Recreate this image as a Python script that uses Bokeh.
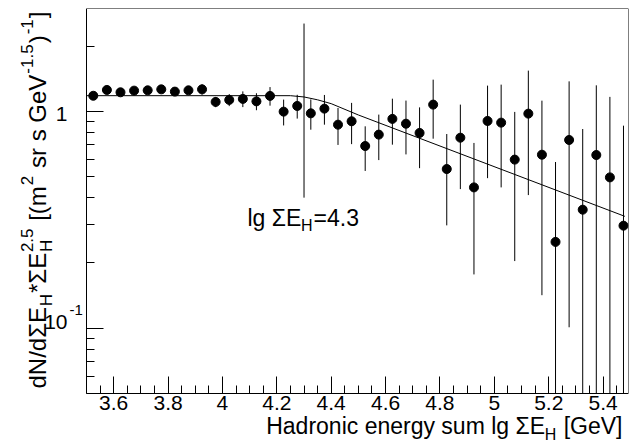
import math
from bokeh.plotting import figure
from bokeh.models import Label, FixedTicker, Range1d, LinearAxis, LogAxis
from bokeh.embed import file_html
from bokeh.resources import INLINE

# ---------------- data ----------------
lg_e = [3.525, 3.575, 3.625, 3.675, 3.725, 3.775, 3.825, 3.875, 3.925, 3.975,
        4.025, 4.075, 4.125, 4.175, 4.225, 4.275, 4.325, 4.375, 4.425, 4.475,
        4.525, 4.575, 4.625, 4.675, 4.725, 4.775, 4.825, 4.875, 4.925, 4.975,
        5.025, 5.075, 5.125, 5.175, 5.225, 5.275, 5.325, 5.375, 5.425, 5.475]
flux = [1.18, 1.255, 1.224, 1.246, 1.25, 1.263, 1.233, 1.25, 1.263, 1.105,
        1.129, 1.141, 1.112, 1.178, 0.997, 1.059, 0.979, 1.029, 0.868, 0.90,
        0.692, 0.781, 0.923, 0.877, 0.795, 1.074, 0.542, 0.756, 0.446, 0.903,
        0.887, 0.599, 0.976, 0.631, 0.25, 0.738, 0.352, 0.629, 0.496, 0.297]
flux_err = [0.04, 0.04, 0.04, 0.04, 0.04, 0.04, 0.04, 0.04, 0.07, 0.06,
            0.072, 0.095, 0.10, 0.116, 0.136, 0.133, 0.156, 0.161, 0.168, 0.194,
            0.161, 0.185, 0.221, 0.244, 0.248, 0.326, 0.244, 0.318, 0.269, 0.411,
            0.441, 0.395, 0.565, 0.489, 0.334, 0.637, 0.477, 0.689, 0.67, 0.562]

fit_x = [3.5, 4.25, 4.30, 4.35, 4.40, 4.50, 5.48]
fit_y = [1.181, 1.181, 1.165, 1.13, 1.085, 0.962, 0.328]

knee_x = [4.3]
knee_y0 = [0.40]
knee_y1 = [2.54]

x_ticks = [3.6, 3.8, 4.0, 4.2, 4.4, 4.6, 4.8, 5.0, 5.2, 5.4]
x_tick_labels = ["3.6", "3.8", "4", "4.2", "4.4", "4.6", "4.8", "5", "5.2", "5.4"]
x_minor = [3.5, 3.55, 3.6, 3.65, 3.7, 3.75, 3.8, 3.85, 3.9, 3.95, 4.0, 4.05, 4.1, 4.15,
           4.2, 4.25, 4.3, 4.35, 4.4, 4.45, 4.5, 4.55, 4.6, 4.65, 4.7, 4.75, 4.8, 4.85,
           4.9, 4.95, 5.0, 5.05, 5.1, 5.15, 5.2, 5.25, 5.3, 5.35, 5.4, 5.45]
y_ticks = [0.1, 1.0]
y_tick_base = ["10", "1"]
y_tick_exp = ["-1", ""]
y_minor = [0.06, 0.07, 0.08, 0.09, 0.2, 0.3, 0.4, 0.5, 0.6, 0.7, 0.8, 0.9, 2.0, 3.0]

x_title = ("Hadronic energy sum lg \u03a3E", "H", " [GeV]")
ann_text = ("lg \u03a3E", "H", "=4.3")
ann_pos = (4.092, 0.2946)

# ---------------- geometry ----------------
FONT = "Liberation Sans"
W_PX, H_PX = 629, 443
AX_LEFT, AX_RIGHT = 86, 628      # page x of the drawn plot box
AX_TOP, AX_BOTTOM = 8, 393       # page y of the drawn plot box
X_MIN, X_MAX = 3.5, 5.4934
Y_MIN, Y_MAX = 0.05, 2.98

ppx = (AX_RIGHT - AX_LEFT) / (X_MAX - X_MIN)
ppd = (AX_BOTTOM - AX_TOP) / (math.log10(Y_MAX) - math.log10(Y_MIN))
x_start = X_MIN - AX_LEFT / ppx
y_start = 10 ** (math.log10(Y_MIN) - (H_PX - AX_BOTTOM) / ppd)

p = figure(width=W_PX, height=H_PX, y_axis_type="log", title=None,
           x_range=Range1d(x_start, X_MAX), y_range=Range1d(y_start, Y_MAX),
           output_backend="svg", toolbar_location=None,
           min_border_left=0, min_border_right=W_PX - AX_RIGHT,
           min_border_top=AX_TOP, min_border_bottom=0)
p.background_fill_color = "white"
p.border_fill_color = "white"
p.outline_line_color = None
p.xgrid.visible = False
p.ygrid.visible = False


def style_axis(ax):
    ax.axis_line_color = "black"
    ax.axis_line_width = 1
    ax.major_tick_line_color = "black"
    ax.minor_tick_line_color = "black"
    ax.major_tick_in = 17
    ax.major_tick_out = 0
    ax.minor_tick_in = 8
    ax.minor_tick_out = 0


xa_main = p.xaxis[0]
style_axis(xa_main)
xa_main.fixed_location = Y_MIN
xa_main.bounds = (X_MIN, X_MAX)
xa_main.ticker = FixedTicker(ticks=x_ticks, minor_ticks=x_minor)
xa_main.major_label_overrides = {t: l for t, l in zip(x_ticks, x_tick_labels)}
xa_main.major_label_text_font = FONT
xa_main.major_label_text_font_size = "21px"
xa_main.major_label_text_color = "black"
xa_main.major_label_standoff = 2

ya_main = p.yaxis[0]
style_axis(ya_main)
ya_main.fixed_location = X_MIN
ya_main.bounds = (Y_MIN, Y_MAX)
ya_main.ticker = FixedTicker(ticks=y_ticks, minor_ticks=y_minor)
ya_main.major_label_overrides = {t: "" for t in y_ticks}
ya_main.major_label_text_font_size = "0px"
ya_main.major_label_standoff = 0

top_ax = LinearAxis(fixed_location=Y_MAX, bounds=(X_MIN, X_MAX),
                    ticker=FixedTicker(ticks=[], minor_ticks=[]),
                    major_tick_line_color=None, minor_tick_line_color=None,
                    major_label_text_font_size="0px", axis_line_color="black")
p.add_layout(top_ax, "above")
right_ax = LogAxis(fixed_location=X_MAX, bounds=(Y_MIN, Y_MAX),
                   ticker=FixedTicker(ticks=[], minor_ticks=[]),
                   major_tick_line_color=None, minor_tick_line_color=None,
                   major_label_text_font_size="0px", axis_line_color="black")
p.add_layout(right_ax, "right")

# ---------------- data marks ----------------
lo = [max(f - e, Y_MIN) for f, e in zip(flux, flux_err)]
hi = [f + e for f, e in zip(flux, flux_err)]
p.segment(x0=lg_e, y0=lo, x1=lg_e, y1=hi, line_color="black", line_width=1)
p.line(fit_x, fit_y, line_color="black", line_width=1)
p.segment(x0=knee_x, y0=knee_y0, x1=knee_x, y1=knee_y1, line_color="black", line_width=1)
p.scatter(lg_e, flux, marker="circle", size=9, fill_color="black", line_color="black")

# ---------------- texts ----------------
W = {' ': 278, '(': 333, ')': 333, '*': 389, '-': 333, '.': 278, '/': 278, '=': 584,
     '[': 278, ']': 278, 'E': 667, 'G': 778, 'H': 722, 'N': 722, 'V': 667,
     'a': 556, 'c': 500, 'd': 556, 'e': 556, 'g': 556, 'i': 222, 'l': 222, 'm': 833,
     'n': 556, 'o': 556, 'r': 333, 's': 500, 'u': 556, 'v': 500, 'y': 500, '\u03a3': 606}
K_MID = 0.3465   # distance (in em) from the alphabetic baseline up to the middle of the em box


def tw(s, size):
    return sum(W.get(c, 556) for c in s) * size / 1000.0


def split_lead(s):
    body = s.lstrip(" ")
    return len(s) - len(body), body


def lab(text, x, y, size, angle=0.0, align="left",
        xu="screen", yu="screen", xoff=0, yoff=0):
    # screen units are relative to the frame: x from the left edge, y up from the bottom
    p.add_layout(Label(x=x, y=y, x_units=xu, y_units=yu, text=text, text_font=FONT,
                       text_font_size=f"{size}px", text_color="black", angle=angle,
                       text_align=align, text_baseline="middle",
                       x_offset=xoff, y_offset=yoff))


def hlab(text, x_page, base_page, size):
    """horizontal text with its alphabetic baseline at page y = base_page"""
    n, body = split_lead(text)
    lab(body, x_page + n * tw(" ", size), H_PX - base_page + K_MID * size, size)


def vlab(text, base_x_page, y_start_page, size):
    """text rotated 90 deg, baseline at page x = base_x_page, starting at page y"""
    n, body = split_lead(text)
    lab(body, base_x_page - K_MID * size, H_PX - y_start_page + n * tw(" ", size), size,
        angle=math.pi / 2)


MS, SS = 23, 16

# in-plot annotation
a0, a1, a2 = ann_text
w0 = tw(a0, MS)
lab(a0, ann_pos[0], ann_pos[1], MS, xu="data", yu="data", yoff=K_MID * MS)
lab(a1, ann_pos[0], ann_pos[1], SS, xu="data", yu="data", xoff=w0, yoff=-5 + K_MID * SS)
lab(a2, ann_pos[0], ann_pos[1], MS, xu="data", yu="data", xoff=w0 + tw(a1, SS) + 1,
    yoff=K_MID * MS)

# y tick labels
tick_yoff = {"10": 6, "1": -3}
for t, b, e in zip(y_ticks, y_tick_base, y_tick_exp):
    lab(b, 67, t, 21, align="right", yu="data", yoff=tick_yoff[b])
    if e:
        lab(e, 69, t, 15, align="left", yu="data", yoff=tick_yoff[b] + 12)

# x title, right aligned at page x = 622, baseline at page y = 433
xa, xb, xc = x_title
x_end = 622
x_c = x_end - tw(xc, MS)
x_b = x_c - tw(xb, SS) - 1
x_a = x_b - tw(xa, MS)
hlab(xa, x_a, 433, MS)
hlab(xb, x_b, 440, SS)
hlab(xc, x_c, 433, MS)

# y title, rotated, built from pieces (baseline at page x = 45, starting at page y = 388)
YM, YS = 24, 17
bx = 45
sub_dx, sup_dx = 7, -13
pieces = [("dN/d\u03a3E", "m"), ("H", "sub"), ("*\u03a3E", "m"), (("2.5", "H"), "stack"),
          (" [(m", "m"), ("2", "sup"), (" sr s GeV", "m"), ("-1.5", "sup"), (")", "m"),
          ("-1", "sup"), ("]", "m")]
cur = 388.0   # page y, decreasing as the text proceeds upward
for txt, kind in pieces:
    if kind == "m":
        vlab(txt, bx, cur, YM)
        cur -= tw(txt, YM)
    elif kind == "sub":
        cur -= 1
        vlab(txt, bx + sub_dx, cur, YS)
        cur -= tw(txt, YS) + 1
    elif kind == "sup":
        cur -= 1
        vlab(txt, bx + sup_dx, cur, YS)
        cur -= tw(txt, YS) + 1
    else:
        sup_t, sub_t = txt
        cur -= 1
        vlab(sup_t, bx + sup_dx, cur, YS)
        vlab(sub_t, bx + sub_dx, cur, YS)
        cur -= max(tw(sup_t, YS), tw(sub_t, YS)) + 1

open("out.html", "w").write(file_html(p, INLINE))
